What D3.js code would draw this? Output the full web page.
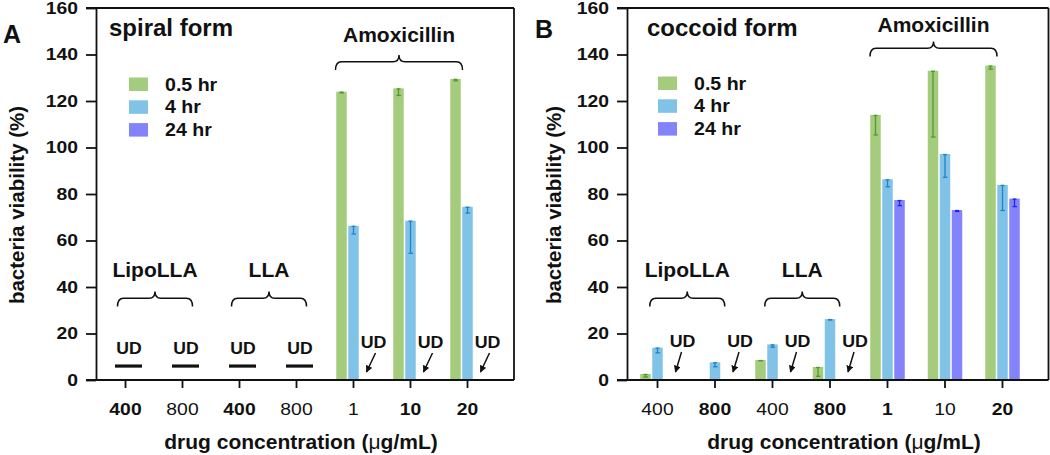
<!DOCTYPE html>
<html>
<head>
<meta charset="utf-8">
<script src="https://cdn.jsdelivr.net/npm/d3@7"></script>
<style>
  html, body { margin: 0; padding: 0; background: #fff; }
  svg { display: block; font-family: "Liberation Sans", Arial, Helvetica, sans-serif; }
</style>
</head>
<body>
<svg id="chart" width="1050" height="455"></svg>
<script>
// ---------------- data ----------------
const categories = ["400", "800", "400", "800", "1", "10", "20"];
const seriesNames = ["0.5 hr", "4 hr", "24 hr"];
const yTicks = [0, 20, 40, 60, 80, 100, 120, 140, 160];

// spiral form (panel A)
const spiral05 = [0, 0, 0, 0, 124, 125.4, 129.5];
const spiral05Err = [0, 0, 0, 0, 0.5, 3, 0.8];
const spiral4 = [0, 0, 0, 0, 66.3, 68.5, 74.5];
const spiral4Err = [0, 0, 0, 0, 3.5, 14, 2.7];
const spiral24 = [0, 0, 0, 0, 0, 0, 0];
const spiral24Err = [0, 0, 0, 0, 0, 0, 0];

// coccoid form (panel B)
const coccoid05 = [2.6, 0.4, 8.6, 5.6, 114, 133, 135.2];
const coccoid05Err = [1.3, 0, 0.3, 4, 8.6, 28.5, 1.5];
const coccoid4 = [13.9, 7.6, 15.3, 26.2, 86.3, 97.2, 83.9];
const coccoid4Err = [2.2, 1.9, 1.2, 0.4, 3.2, 10, 11];
const coccoid24 = [0, 0, 0, 0, 77.4, 73.1, 78];
const coccoid24Err = [0, 0, 0, 0, 2.4, 0.6, 3.4];

// groups of categories
const groupNames = ["LipoLLA", "LLA", "Amoxicillin"];
const groupStart = [0, 2, 4];
const groupEnd = [1, 3, 6];

// undetected markers
const spiralUDLines = [0, 1, 2, 3];      // whole category undetected (bar-line)
const spiralUDArrows = [4, 5, 6];        // 24 hr undetected (arrow)
const coccoidUDArrows = [0, 1, 2, 3];

// ---------------- styles ----------------
const colors = ["#a5cb7d", "#80c3e6", "#8383fb"];
const errColors = ["#4f9a2c", "#1f82cc", "#2424e6"];
const ink = "#111";
const TICK_STRETCH = 1.21;

const svg = d3.select("#chart");
const defs = svg.append("defs");
defs.append("marker")
  .attr("id", "arrow")
  .attr("viewBox", "0 0 10 10")
  .attr("refX", 9).attr("refY", 5)
  .attr("markerWidth", 7).attr("markerHeight", 7)
  .attr("markerUnits", "userSpaceOnUse")
  .attr("orient", "auto")
  .append("path").attr("d", "M0,0 L10,5 L0,10 z").attr("fill", ink);

// stretched text helper
function stext(g, x, y, str, size, sx, anchor) {
  return g.append("text")
    .attr("transform", `translate(${x},${y}) scale(${sx},1)`)
    .attr("text-anchor", anchor || "start")
    .attr("font-size", size).attr("font-weight", "bold").attr("fill", ink).text(str);
}

function brace(g, x1, x2, yTip, h) {
  const xm = (x1 + x2) / 2, yl = yTip + h * 0.45, yb = yTip + h, r = 6;
  const d = `M${x1},${yb} Q${x1},${yl} ${x1 + r},${yl} L${xm - r},${yl} Q${xm},${yl} ${xm},${yTip} ` +
            `Q${xm},${yl} ${xm + r},${yl} L${x2 - r},${yl} Q${x2},${yl} ${x2},${yb}`;
  g.append("path").attr("d", d).attr("fill", "none").attr("stroke", ink).attr("stroke-width", 1.5);
}

function drawPanel(cfg) {
  const g = svg.append("g");
  const y = d3.scaleLinear().domain([0, 160]).range([380, 8]);
  const x = d3.scalePoint().domain(d3.range(categories.length)).range(cfg.xRange);
  const left = cfg.axisX, right = cfg.rightX;

  // frame (top and right)
  g.append("line").attr("x1", left - 10).attr("x2", right).attr("y1", y(160)).attr("y2", y(160))
    .attr("stroke", ink).attr("stroke-width", 1.8);
  g.append("line").attr("x1", right).attr("x2", right).attr("y1", y(160)).attr("y2", y(0))
    .attr("stroke", ink).attr("stroke-width", 1.8);

  // bars
  const offsets = [-11.5, 0.5, 12.5];
  const bw = 10.5;
  cfg.series.forEach((vals, si) => {
    g.append("g").selectAll("rect").data(vals).join("rect")
      .attr("x", (d, i) => x(i) + offsets[si] - bw / 2)
      .attr("y", d => y(d))
      .attr("width", bw)
      .attr("height", d => y(0) - y(d))
      .attr("fill", colors[si]);
  });
  // error bars (lower whisker drawn on the bar)
  cfg.errors.forEach((errs, si) => {
    const vals = cfg.series[si];
    const eg = g.append("g").attr("stroke", errColors[si]).attr("stroke-width", 1.3);
    errs.forEach((e, i) => {
      if (e <= 0 || vals[i] <= 0) return;
      const cx = x(i) + offsets[si];
      const yt = y(vals[i]), yb = y(Math.max(0, vals[i] - e));
      eg.append("line").attr("x1", cx).attr("x2", cx).attr("y1", yt).attr("y2", yb);
      eg.append("line").attr("x1", cx - 2).attr("x2", cx + 2).attr("y1", yt + 0.5).attr("y2", yt + 0.5);
      eg.append("line").attr("x1", cx - 2).attr("x2", cx + 2.5).attr("y1", yb).attr("y2", yb);
    });
  });

  // y axis
  const ya = g.append("g").attr("transform", `translate(${left},0)`)
    .call(d3.axisLeft(y).tickValues(yTicks).tickSize(10).tickSizeOuter(0).tickPadding(8));
  ya.select(".domain").attr("stroke", ink).attr("stroke-width", 1.8);
  ya.selectAll(".tick line").attr("stroke", ink).attr("stroke-width", 1.8);
  ya.selectAll(".tick text").attr("font-size", 16).attr("font-weight", "bold").attr("fill", ink)
    .attr("font-family", "Liberation Sans, Arial, sans-serif")
    .attr("x", -18 / TICK_STRETCH).attr("transform", `scale(${TICK_STRETCH},1)`);

  // x axis
  g.append("line").attr("x1", left - 10).attr("x2", right).attr("y1", y(0)).attr("y2", y(0))
    .attr("stroke", ink).attr("stroke-width", 1.8);
  const xa = g.append("g").attr("transform", `translate(0,${y(0)})`)
    .call(d3.axisBottom(x).tickSize(8).tickSizeOuter(0).tickPadding(15.5).tickFormat(i => categories[i]));
  xa.select(".domain").remove();
  xa.selectAll(".tick line").attr("stroke", ink).attr("stroke-width", 1.8);
  xa.selectAll(".tick text").attr("font-size", 16).attr("fill", ink)
    .attr("font-family", "Liberation Sans, Arial, sans-serif")
    .attr("font-weight", (d, i) => cfg.tickWeights[i])
    .attr("transform", `scale(${TICK_STRETCH},1)`);

  // axis titles
  g.append("text").attr("transform", `translate(${cfg.yTitleX},205) rotate(-90)`)
    .attr("text-anchor", "middle").attr("font-size", 20.5).attr("font-weight", "bold").attr("fill", ink)
    .text("bacteria viability (%)");
  const xt = g.append("text").attr("x", cfg.xTitleX).attr("y", 449)
    .attr("text-anchor", "middle").attr("font-size", 21).attr("font-weight", "bold").attr("fill", ink);
  xt.append("tspan").text("drug concentration (");
  xt.append("tspan").attr("font-weight", "normal").text("\u03bc");
  xt.append("tspan").text("g/mL)");

  // panel letter & title
  g.append("text").attr("x", cfg.letterX).attr("y", cfg.letterY).attr("font-size", 25)
    .attr("font-weight", "bold").attr("fill", ink).text(cfg.letter);
  g.append("text").attr("x", cfg.titleX).attr("y", 36).attr("font-size", 24)
    .attr("font-weight", "bold").attr("fill", ink).text(cfg.title);

  // legend
  seriesNames.forEach((n, i) => {
    const ty = cfg.legendY + i * 22.8;
    g.append("rect").attr("x", cfg.legendX).attr("y", ty).attr("width", 19).attr("height", 13.5)
      .attr("fill", colors[i]);
    stext(g, cfg.legendX + 36, ty + 13, n, 17.5, 1.12);
  });

  // groups: label + brace
  groupNames.forEach((n, gi) => {
    const a = x(groupStart[gi]), b = x(groupEnd[gi]);
    const mid = (a + b) / 2;
    const amox = gi === 2;
    const c = amox ? mid - 11 : mid + 1.5;
    const hw = amox ? 63.5 : 37.5;
    const tip = amox ? cfg.amoxTip : 291.5;
    const labY = amox ? cfg.amoxLabelY : 277;
    g.append("text").attr("x", c).attr("y", labY).attr("text-anchor", "middle")
      .attr("font-size", 21).attr("font-weight", "bold").attr("fill", ink).text(n);
    brace(g, c - hw, c + hw, tip, 15);
  });

  // UD bar-lines
  cfg.udLines.forEach(i => {
    const c = x(i) + 3.5;
    g.append("line").attr("x1", c - 13.5).attr("x2", c + 13.5).attr("y1", y(6)).attr("y2", y(6))
      .attr("stroke", ink).attr("stroke-width", 3.2);
    stext(g, x(i) + 4, 354, "UD", 16, 1.1, "middle");
  });
  // UD arrows
  cfg.udArrows.forEach(i => {
    const p = x(i) + offsets[2];
    const tc = p + cfg.udDx;
    stext(g, tc, cfg.udBase, "UD", 16.5, 1.08, "middle");
    g.append("line").attr("x1", tc + cfg.tailDx).attr("y1", cfg.udBase + 5)
      .attr("x2", p + cfg.tipDx).attr("y2", 372)
      .attr("stroke", ink).attr("stroke-width", 1.5).attr("marker-end", "url(#arrow)");
  });
}

drawPanel({
  letter: "A", letterX: 3, letterY: 43, title: "spiral form", titleX: 109,
  axisX: 96, rightX: 514, xRange: [125, 467],
  series: [spiral05, spiral4, spiral24], errors: [spiral05Err, spiral4Err, spiral24Err],
  tickWeights: ["bold", "normal", "bold", "normal", "normal", "bold", "bold"],
  yTitleX: 24, xTitleX: 301,
  legendX: 129, legendY: 77.5,
  amoxTip: 55, amoxLabelY: 41.5,
  udLines: spiralUDLines, udArrows: spiralUDArrows,
  udDx: 8, udBase: 348, tailDx: 2, tipDx: 1
});

drawPanel({
  letter: "B", letterX: 535, letterY: 38, title: "coccoid form", titleX: 647,
  axisX: 627, rightX: 1048.5, xRange: [657, 1002],
  series: [coccoid05, coccoid4, coccoid24], errors: [coccoid05Err, coccoid4Err, coccoid24Err],
  tickWeights: ["normal", "bold", "normal", "bold", "bold", "normal", "bold"],
  yTitleX: 561, xTitleX: 844,
  legendX: 658, legendY: 76.5,
  amoxTip: 41.5, amoxLabelY: 31.5,
  udLines: [], udArrows: coccoidUDArrows,
  udDx: 13, udBase: 347, tailDx: -1, tipDx: 6
});
</script>
</body>
</html>
